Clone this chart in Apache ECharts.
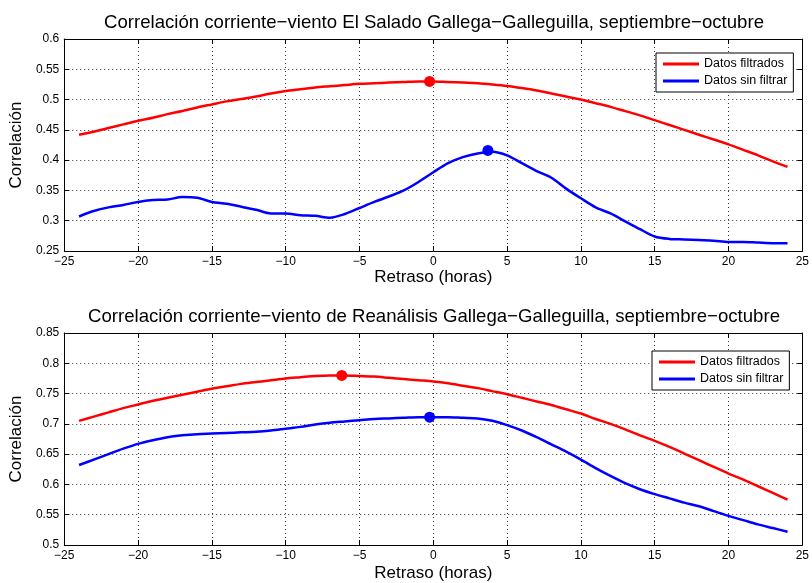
<!DOCTYPE html>
<html>
<head>
<meta charset="utf-8">
<script src="https://cdn.jsdelivr.net/npm/echarts@6/dist/echarts.min.js"></script>
<style>
  html, body { margin: 0; padding: 0; background: #fff; }
  #chart { width: 812px; height: 583px; }
</style>
</head>
<body>
<div id="chart"></div>
<script>
// retraso en horas
var lags = [-24, -23, -22, -21, -20, -19, -18, -17, -16, -15, -14, -13, -12, -11, -10, -9, -8, -7, -6, -5, -4, -3, -2, -1,
	0, 1, 2, 3, 4, 5, 6, 7, 8, 9, 10, 11, 12, 13, 14, 15, 16, 17, 18, 19, 20, 21, 22, 23, 24];

// El Salado
var saladoFiltrado = [0.442, 0.447, 0.453, 0.459, 0.465, 0.470, 0.476, 0.481, 0.487, 0.492, 0.497, 0.501, 0.505, 0.510, 0.514, 0.517, 0.520, 0.522, 0.524, 0.526, 0.527, 0.528, 0.529, 0.530,
	0.530, 0.529, 0.528, 0.527, 0.525, 0.5225, 0.519, 0.515, 0.510, 0.505, 0.500, 0.494, 0.488, 0.481, 0.474, 0.466, 0.458, 0.450, 0.442, 0.434, 0.426, 0.417, 0.408, 0.398, 0.389];
var saladoSinFiltrar = [0.307, 0.316, 0.322, 0.326, 0.331, 0.334, 0.335, 0.339, 0.338, 0.331, 0.328, 0.323, 0.318, 0.312, 0.312, 0.309, 0.308, 0.305, 0.311, 0.321, 0.331, 0.340, 0.350, 0.364,
	0.380, 0.395, 0.405, 0.411, 0.414, 0.408, 0.395, 0.382, 0.371, 0.353, 0.337, 0.322, 0.312, 0.299, 0.286, 0.274, 0.270, 0.269, 0.268, 0.267, 0.265, 0.265, 0.264, 0.263, 0.263];

// Reanalisis
var reanFiltrado = [0.705, 0.712, 0.719, 0.726, 0.732, 0.738, 0.743, 0.748, 0.753, 0.758, 0.762, 0.766, 0.769, 0.772, 0.775, 0.777, 0.779, 0.780, 0.780, 0.779, 0.778, 0.776, 0.774, 0.772,
	0.770, 0.767, 0.763, 0.759, 0.754, 0.749, 0.743, 0.737, 0.731, 0.724, 0.717, 0.708, 0.700, 0.691, 0.681, 0.672, 0.662, 0.651, 0.640, 0.629, 0.618, 0.608, 0.597, 0.586, 0.575];
var reanSinFiltrar = [0.632, 0.641, 0.650, 0.659, 0.667, 0.673, 0.678, 0.681, 0.683, 0.684, 0.685, 0.686, 0.687, 0.689, 0.692, 0.695, 0.699, 0.702, 0.704, 0.706, 0.708, 0.709, 0.710, 0.711,
	0.711, 0.711, 0.710, 0.709, 0.705, 0.698, 0.689, 0.678, 0.666, 0.654, 0.641, 0.627, 0.614, 0.602, 0.592, 0.584, 0.577, 0.570, 0.564, 0.556, 0.548, 0.541, 0.534, 0.528, 0.522];

// maximos
var saladoMaxLag = [-0.25, 3.7];
var saladoMaxVal = [0.530, 0.416];
var reanMaxLag = [-6.2, -0.25];
var reanMaxVal = [0.780, 0.711];

var seriesNames = ['Datos filtrados', 'Datos sin filtrar'];
var titles = [
	'Correlación corriente−viento El Salado Gallega−Galleguilla, septiembre−octubre',
	'Correlación corriente−viento de Reanálisis Gallega−Galleguilla, septiembre−octubre'
];

var font = 'Liberation Sans, Arial, Helvetica, sans-serif';

function pairs(xs, ys) {
	var out = [];
	for (var i = 0; i < xs.length; i++) {
		out.push([xs[i], ys[i]]);
	}
	return out;
}

function minusSign(v) {
	return String(v).replace('-', '\u2212');
}

function xAxisMain(gridIndex, nameGap) {
	return {
		type: 'value', gridIndex: gridIndex, min: -25, max: 25, interval: 5,
		name: 'Retraso (horas)', nameLocation: 'middle', nameGap: nameGap,
		nameTextStyle: { color: '#000', fontSize: 17, fontFamily: font },
		axisLine: { show: true, onZero: false, lineStyle: { color: '#000', width: 1 } },
		axisTick: { show: true, inside: true, length: 5, lineStyle: { color: '#000' } },
		axisLabel: { color: '#000', fontSize: 12, fontFamily: font, margin: 5, formatter: minusSign },
		splitLine: { show: true, lineStyle: { color: '#333', width: 1, type: [1, 3] } }
	};
}

function xAxisTop(gridIndex) {
	return {
		type: 'value', gridIndex: gridIndex, position: 'top', min: -25, max: 25, interval: 5,
		axisLine: { show: true, onZero: false, lineStyle: { color: '#000', width: 1 } },
		axisTick: { show: true, inside: true, length: 5, lineStyle: { color: '#000' } },
		axisLabel: { show: false },
		splitLine: { show: false }
	};
}

function yAxisMain(gridIndex, min, max) {
	return {
		type: 'value', gridIndex: gridIndex, min: min, max: max, interval: 0.05,
		name: 'Correlación', nameLocation: 'middle', nameGap: 31,
		nameTextStyle: { color: '#000', fontSize: 17, fontFamily: font },
		axisLine: { show: true, onZero: false, lineStyle: { color: '#000', width: 1 } },
		axisTick: { show: true, inside: true, length: 5, lineStyle: { color: '#000' } },
		axisLabel: {
			color: '#000', fontSize: 12, fontFamily: font, margin: 5,
			formatter: function (v) { return String(parseFloat(v.toFixed(2))); }
		},
		splitLine: { show: true, lineStyle: { color: '#333', width: 1, type: [1, 3] } }
	};
}

function yAxisRight(gridIndex, min, max) {
	return {
		type: 'value', gridIndex: gridIndex, position: 'right', min: min, max: max, interval: 0.05,
		axisLine: { show: true, onZero: false, lineStyle: { color: '#000', width: 1 } },
		axisTick: { show: true, inside: true, length: 5, lineStyle: { color: '#000' } },
		axisLabel: { show: false },
		splitLine: { show: false }
	};
}

function lineSeries(name, axisIndex, xs, ys, color) {
	return {
		name: name, type: 'line', xAxisIndex: axisIndex, yAxisIndex: axisIndex,
		data: pairs(xs, ys), showSymbol: false, smooth: 0.3,
		lineStyle: { color: color, width: 2.5 }, itemStyle: { color: color },
		z: 3
	};
}

function peakSeries(axisIndex, x, y, color) {
	return {
		name: 'max', type: 'scatter', xAxisIndex: axisIndex, yAxisIndex: axisIndex,
		data: [[x, y]], symbolSize: 11, itemStyle: { color: color, opacity: 1 }, z: 4
	};
}

function legendBox(left, top) {
	return {
		data: seriesNames, left: left, top: top, orient: 'vertical',
		icon: 'rect', itemWidth: 36, itemHeight: 3, itemGap: 3,
		padding: [4, 6, 4, 7],
		backgroundColor: '#fff', borderColor: '#000', borderWidth: 1, borderRadius: 0,
		textStyle: { color: '#000', fontSize: 12.5, fontFamily: font, lineHeight: 14 },
		selectedMode: false
	};
}

var chart = echarts.init(document.getElementById('chart'));
chart.setOption({
	animation: false,
	backgroundColor: '#fff',
	title: [{
		text: titles[0], left: 429, top: 8, textAlign: 'center',
		textStyle: { color: '#000', fontSize: 18.6, fontWeight: 'normal', fontFamily: font }
	}, {
		text: titles[1], left: 429, top: 302, textAlign: 'center',
		textStyle: { color: '#000', fontSize: 18.6, fontWeight: 'normal', fontFamily: font }
	}],
	legend: [legendBox(656, 53), legendBox(652, 351)],
	grid: [
		{ left: 62, right: 6, top: 39, height: 212 },
		{ left: 62, right: 6, top: 333, height: 213 }
	],
	xAxis: [xAxisMain(0, 14), xAxisMain(1, 20), xAxisTop(0), xAxisTop(1)],
	yAxis: [yAxisMain(0, 0.25, 0.6), yAxisMain(1, 0.5, 0.85), yAxisRight(0, 0.25, 0.6), yAxisRight(1, 0.5, 0.85)],
	series: [
		lineSeries(seriesNames[0], 0, lags, saladoFiltrado, '#ff0000'),
		lineSeries(seriesNames[1], 0, lags, saladoSinFiltrar, '#0000ff'),
		peakSeries(0, saladoMaxLag[0], saladoMaxVal[0], '#ff0000'),
		peakSeries(0, saladoMaxLag[1], saladoMaxVal[1], '#0000ff'),
		lineSeries(seriesNames[0], 1, lags, reanFiltrado, '#ff0000'),
		lineSeries(seriesNames[1], 1, lags, reanSinFiltrar, '#0000ff'),
		peakSeries(1, reanMaxLag[0], reanMaxVal[0], '#ff0000'),
		peakSeries(1, reanMaxLag[1], reanMaxVal[1], '#0000ff')
	]
});
</script>
</body>
</html>
